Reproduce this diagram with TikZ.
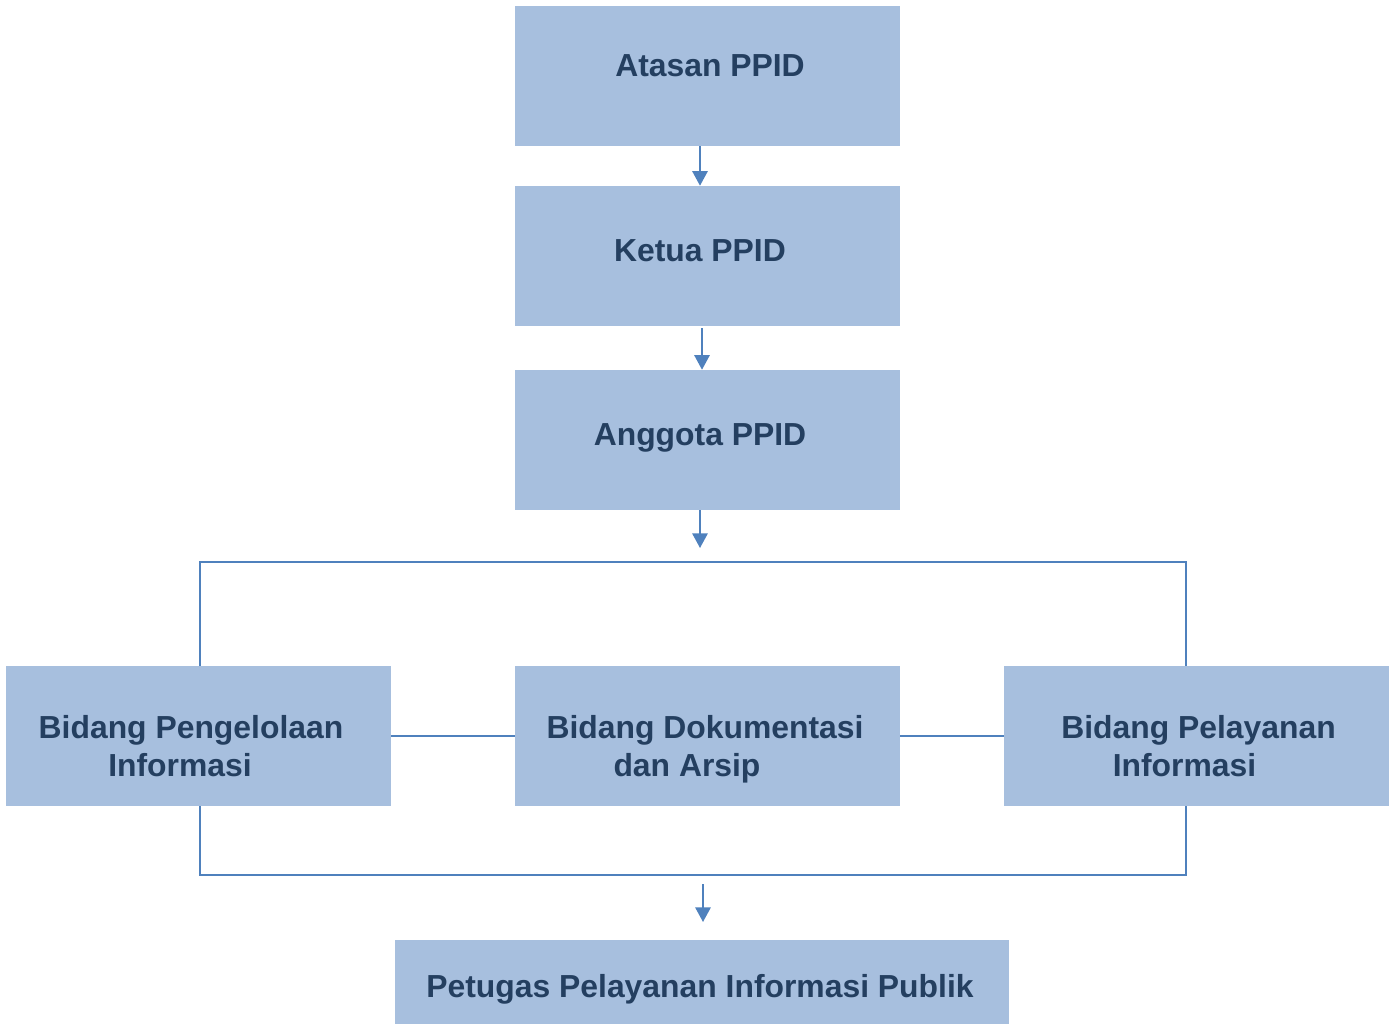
\documentclass[tikz,border=0pt]{standalone}
\usepackage{fontspec}
\setmainfont{Liberation Sans}
\usetikzlibrary{arrows.meta}
\definecolor{boxfill}{HTML}{A7BFDE}
\definecolor{boxtext}{HTML}{243F60}
\definecolor{linkblue}{HTML}{4F81BD}
\tikzset{
  box/.style={fill=boxfill, draw=none, inner sep=0pt, minimum width=288.75pt, minimum height=105pt},
  lbl/.style={text=boxtext, font=\bfseries\fontsize{23.9}{28.5}\selectfont, align=center, inner sep=0pt, anchor=base},
  link/.style={draw=linkblue, line width=1.5pt},
  arr/.style={link, -{Triangle[length=11pt,width=11.5pt]}}
}
\begin{document}
\begin{tikzpicture}[x=0.75pt,y=0.75pt,yscale=-1,xscale=1]
	\useasboundingbox (0,0) rectangle (1391,1024);

	%Shape: Rectangles
	\node [box] (atasan) at (707.5,76) {};
	\node [box] (ketua) at (707.5,256) {};
	\node [box] (anggota) at (707.5,440) {};
	\node [box] (pengelolaan) at (198.5,736) {};
	\node [box] (dokumentasi) at (707.5,736) {};
	\node [box] (pelayanan) at (1196.5,736) {};
	\node [box, minimum width=460.5pt, minimum height=63pt] (petugas) at (702,982) {};

	% Text Node
	\node [lbl] (atasanLbl) at (710,76) {Atasan PPID};
	\node [lbl] (ketuaLbl) at (700,261) {Ketua PPID};
	\node [lbl] (anggotaLbl) at (700,445) {Anggota PPID};
	\node [lbl] (pengelolaanLbl) at (191,776) {Bidang Pengelolaan\\Informasi\hspace*{16.5pt}};
	\node [lbl] (dokumentasiLbl) at (705,776) {Bidang Dokumentasi\\dan Arsip\hspace*{27pt}};
	\node [lbl] (pelayananLbl) at (1198.5,776) {Bidang Pelayanan\\Informasi\hspace*{21pt}};
	\node [lbl] (petugasLbl) at (700,997) {Petugas Pelayanan Informasi Publik};

	%Straight Lines
	\coordinate (frameL) at (200,562);
	\coordinate (frameR) at (1186,562);
	\coordinate (frameBL) at (200,875);
	\coordinate (frameBR) at (1186,875);
	\draw [link] (pengelolaan.north -| frameL) -- (frameL) -- (frameR) -- (pelayanan.north -| frameR);
	\draw [link] (pengelolaan.south -| frameBL) -- (frameBL) -- (frameBR) -- (pelayanan.south -| frameBR);
	\draw [link] (pengelolaan.east) -- (dokumentasi.west);
	\draw [link] (dokumentasi.east) -- (pelayanan.west);

	%Arrows
	\coordinate (anggotaOut) at (700,548);
	\coordinate (petugasIn) at (703,884);
	\draw [arr] (atasan.south -| 700,0) -- (ketua.north -| 700,0);
	\draw [arr] (ketua.south -| 702,0) ++(0,2) -- (anggota.north -| 702,0);
	\draw [arr] (anggota.south -| anggotaOut) -- (anggotaOut);
	\draw [arr] (petugasIn) -- ++(0,38);

\end{tikzpicture}
\end{document}
